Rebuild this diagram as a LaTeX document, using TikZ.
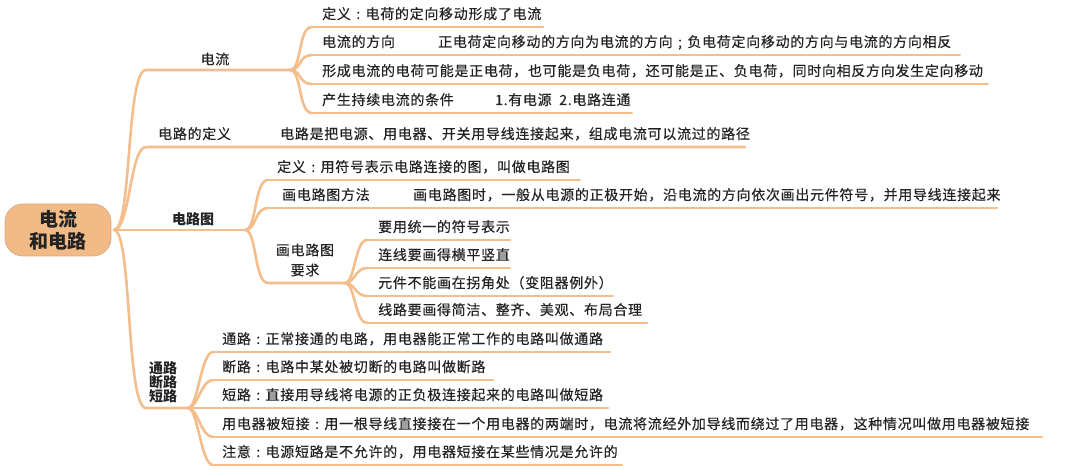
\documentclass[tikz,border=0pt]{standalone}
\usepackage{fontspec}
\newfontfamily\cjk{Noto Sans CJK SC}[LetterSpace=5,FakeBold=0.4]
\newfontfamily\cjkb{Noto Sans CJK SC}
\newcommand\zc{\hbox to 14.7pt{\hss:\hss}}
\newcommand\zs{\hbox to 14.7pt{\hss;\hss}}
\definecolor{brc}{RGB}{243,189,140}
\definecolor{rootfill}{RGB}{242,186,134}
\definecolor{txt}{RGB}{35,35,35}
\begin{document}
\begin{tikzpicture}[x=1pt,y=-1pt,
  brline/.style={draw=brc, line width=2.6pt, line cap=round},
  ulline/.style={draw=brc, line width=2.1pt, line cap=round},
  lbl/.style={anchor=base west, inner sep=0pt, font=\cjk\fontsize{14}{16}\selectfont, text=txt},
  hdr/.style={anchor=center, inner sep=0pt, align=center, font=\cjk\fontsize{14}{16}\selectfont, text=txt},
  hdrb/.style={hdr, font=\cjkb\bfseries\fontsize{14}{16}\selectfont}
]
\useasboundingbox (0,0) rectangle (1080,470);

% root
\node[draw=brc!90!black, fill=rootfill, line width=0.8pt, rounded corners=18pt,
      minimum width=106pt, minimum height=52pt, align=center, text=txt,
      font=\cjkb\bfseries\fontsize{19}{22}\selectfont] (root) at (58,230) {电流\\和电路};
\coordinate (R) at (114,230);

% trunk coordinates
\coordinate (a0) at (146,70);  \coordinate (FA) at (290,70);
\coordinate (b0) at (146,147); \coordinate (b1) at (745,147);
\coordinate (FC) at (245,230);
\coordinate (e0) at (146,408); \coordinate (FE) at (188,408);

\draw[brline] (R) .. controls +(18,0) and +(-20,0) .. (a0) -- (FA);
\draw[brline] (R) .. controls +(16,0) and +(-16,0) .. (b0) -- (b1);
\draw[brline] (R) -- (FC);
\draw[brline] (R) .. controls +(18,0) and +(-20,0) .. (e0) -- (FE);

% branch labels
\node[hdr] (lA) at (215,59) {电流};
\node[lbl] (lB) at (158,139) {电路的定义};
\node[lbl] (tB) at (280,139) {电路是把电源、用电器、开关用导线连接起来，组成电流可以流过的路径};
\node[hdrb] (lC) at (193,219) {电路图};
\node[hdrb, align=center, font=\cjkb\bfseries\fontsize{14}{14}\selectfont] (lE) at (163,382) {通路\\断路\\短路};

% children of A
\foreach \n/\y/\r in {1/27/543, 2/55/960, 3/84/988, 4/113/632}{
  \coordinate (a\n l) at (312,\y);
  \coordinate (a\n r) at (\r,\y);
  \draw[brline] (FA) .. controls +(12,0) and +(-14,0) .. (a\n l);
  \draw[ulline] (a\n l) -- (a\n r);
}
\node[lbl] (ta1) at (322,19) {定义\zc 电荷的定向移动形成了电流};
\node[lbl] (ta2) at (322,47) {电流的方向};
\node[lbl] (ta2b) at (438,47) {正电荷定向移动的方向为电流的方向\zs 负电荷定向移动的方向与电流的方向相反};
\node[lbl] (ta3) at (322,76) {形成电流的电荷可能是正电荷，也可能是负电荷，还可能是正、负电荷，同时向相反方向发生定向移动};
\node[lbl] (ta4) at (322,105) {产生持续电流的条件};
\node[lbl] (ta4b) at (495,105) {1.有电源\ \ 2.电路连通};

% children of C
\foreach \n/\y/\r in {1/180/580, 2/208/997}{
  \coordinate (c\n l) at (268,\y);
  \coordinate (c\n r) at (\r,\y);
  \draw[brline] (FC) .. controls +(12,0) and +(-14,0) .. (c\n l);
  \draw[ulline] (c\n l) -- (c\n r);
}
\coordinate (c3l) at (268,283); \coordinate (FD) at (345,283);
\draw[brline] (FC) .. controls +(12,0) and +(-14,0) .. (c3l) -- (FD);
\node[lbl] (tc1) at (277,172) {定义\zc 用符号表示电路连接的图，叫做电路图};
\node[lbl] (tc2) at (282,200) {画电路图方法};
\node[lbl] (tc2b) at (413,200) {画电路图时，一般从电源的正极开始，沿电流的方向依次画出元件符号，并用导线连接起来};
\node[hdr, font=\cjk\fontsize{14}{20}\selectfont] (tc3) at (305,260) {画电路图\\要求};

% children of D
\foreach \n/\y/\r in {1/240/510, 2/268/510, 3/296/613, 4/323/647}{
  \coordinate (d\n l) at (367,\y);
  \coordinate (d\n r) at (\r,\y);
  \draw[brline] (FD) .. controls +(10,0) and +(-12,0) .. (d\n l);
  \draw[ulline] (d\n l) -- (d\n r);
}
\node[lbl] (td1) at (378,232) {要用统一的符号表示};
\node[lbl] (td2) at (378,260) {连线要画得横平竖直};
\node[lbl] (td3) at (378,288) {元件不能画在拐角处（变阻器例外）};
\node[lbl] (td4) at (378,315) {线路要画得简洁、整齐、美观、布局合理};

% children of E
\foreach \n/\y/\r in {1/352/610, 2/380/493, 3/408/608, 4/437/1042, 5/465/622}{
  \coordinate (e\n l) at (213,\y);
  \coordinate (e\n r) at (\r,\y);
  \draw[brline] (FE) .. controls +(10,0) and +(-12,0) .. (e\n l);
  \draw[ulline] (e\n l) -- (e\n r);
}
\node[lbl] (te1) at (222,344) {通路\zc 正常接通的电路，用电器能正常工作的电路叫做通路};
\node[lbl] (te2) at (222,372) {断路\zc 电路中某处被切断的电路叫做断路};
\node[lbl] (te3) at (222,400) {短路\zc 直接用导线将电源的正负极连接起来的电路叫做短路};
\node[lbl] (te4) at (222,429) {用电器被短接\zc 用一根导线直接接在一个用电器的两端时，电流将流经外加导线而绕过了用电器，这种情况叫做用电器被短接};
\node[lbl] (te5) at (222,457) {注意\zc 电源短路是不允许的，用电器短接在某些情况是允许的};
\end{tikzpicture}
\end{document}
